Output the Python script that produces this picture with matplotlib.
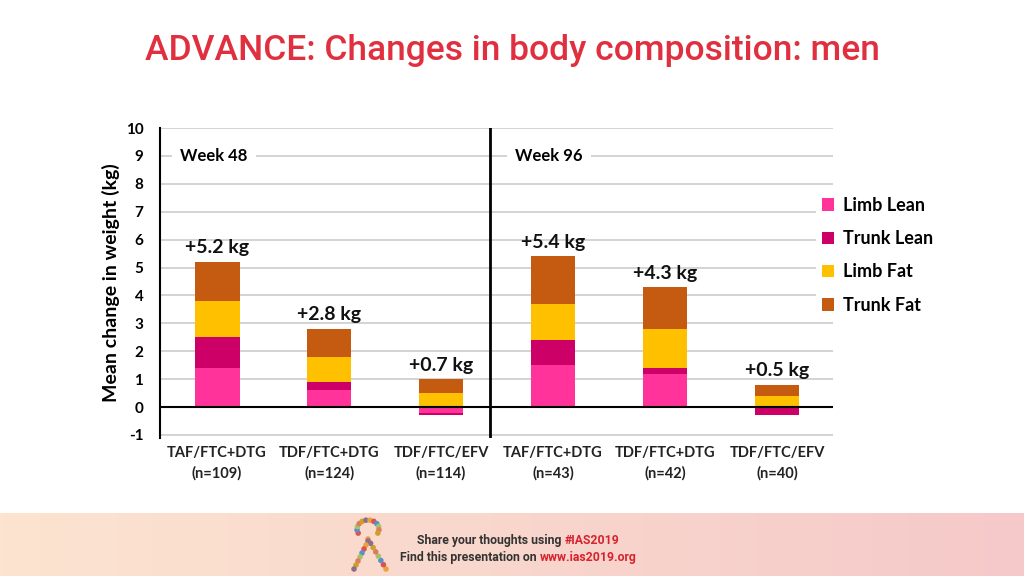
import matplotlib.pyplot as plt
import numpy as np

plt.rcParams["axes.unicode_minus"] = False

# %% data
groups = ["TAF/FTC+DTG\n(n=109)", "TDF/FTC+DTG\n(n=124)", "TDF/FTC/EFV\n(n=114)",
          "TAF/FTC+DTG\n(n=43)", "TDF/FTC+DTG\n(n=42)", "TDF/FTC/EFV\n(n=40)"]
limb_lean = [1.4, 0.6, -0.2, 1.5, 1.2, 0.0]
trunk_lean = [1.1, 0.3, -0.1, 0.9, 0.2, -0.3]
limb_fat = [1.3, 0.9, 0.5, 1.3, 1.4, 0.4]
trunk_fat = [1.4, 1.0, 0.5, 1.7, 1.5, 0.4]
totals = ["+5.2 kg", "+2.8 kg", "+0.7 kg", "+5.4 kg", "+4.3 kg", "+0.5 kg"]
weeks = ["Week 48", "Week 96"]

series = [("Limb Lean", limb_lean, "#FF3399"),
          ("Trunk Lean", trunk_lean, "#CC0066"),
          ("Limb Fat", limb_fat, "#FFC000"),
          ("Trunk Fat", trunk_fat, "#C55A11")]

font = "Lato"
fig = plt.figure(figsize=(10.24, 5.76), dpi=100)

# %% title
fig.text(0.5, 0.912, "ADVANCE: Changes in body composition: men", ha="center", va="center",
         fontsize=25.5, color="#E0303F", family="Roboto", fontweight="medium")

# %% chart
ax = fig.add_axes([0.15625, 0.240, 0.6572, 0.5377])
x = np.arange(len(groups))
pos_base = np.zeros(len(groups))
neg_base = np.zeros(len(groups))
for name, vals, col in series:
    vals = np.array(vals)
    base = np.where(vals >= 0, pos_base, neg_base)
    ax.bar(x, vals, 0.40, bottom=base, color=col, label=name, zorder=2)
    pos_base += np.clip(vals, 0, None)
    neg_base += np.clip(vals, None, 0)

for xi, top, lab in zip(x, pos_base, totals):
    ax.text(xi, top + 0.2, lab, ha="center", va="bottom", fontsize=14,
            fontweight="bold", family=font, color="#111111")

ax.set_xlim(-0.51, 5.5)
ax.set_ylim(-1.1, 10)
ax.set_yticks(range(-1, 11))
ax.grid(axis="y", color="#D0D0D0", lw=1.3, zorder=0)
ax.set_axisbelow(True)
ax.axhline(0, color="black", lw=1.5, zorder=3)
ax.axvline(2.44, color="black", lw=2, zorder=3)
for s in ["top", "right", "bottom"]:
    ax.spines[s].set_visible(False)
ax.spines["left"].set_linewidth(1.5)
ax.tick_params(axis="y", length=0, pad=12, labelsize=11)
ax.tick_params(axis="x", length=0, pad=6, labelsize=10.5)
ax.set_xticks(x)
ax.set_xticklabels(groups, fontweight="bold", family=font, color="#222222", linespacing=1.5)
for t in ax.get_yticklabels():
    t.set_fontweight("bold")
    t.set_family(font)
ax.set_ylabel("Mean change in weight (kg)", fontsize=14, fontweight="bold", family=font, labelpad=4)

for xw, wk in zip([-0.33, 2.66], weeks):
    ax.text(xw, 9, wk, ha="left", va="center", fontsize=12, fontweight="bold", family=font,
            bbox=dict(facecolor="white", edgecolor="none", pad=6), zorder=4)

leg = ax.legend(loc="upper left", bbox_to_anchor=(0.975, 0.795), frameon=True, facecolor="white",
                edgecolor="none", framealpha=1, handlelength=0.7, handleheight=0.7,
                handletextpad=0.5, labelspacing=0.9, borderaxespad=0, borderpad=0.3,
                prop=dict(family=font, weight="bold", size=13))

# %% footer
fax = fig.add_axes([0, 0, 1, 63 / 576])
c1 = np.array([252, 228, 208]) / 255
c2 = np.array([245, 201, 201]) / 255
grad = np.linspace(0, 1, 256)[None, :, None]
fax.imshow(c1 + (c2 - c1) * grad, aspect="auto", extent=[0, 1, 0, 1])
fax.set_xlim(0, 1)
fax.set_ylim(0, 1)
fax.set_axis_off()

# small ribbon logo (pixel coords, y downwards)
seg = np.linspace(0, 1, 8)
ang = np.linspace(np.pi * 1.15, -np.pi * 0.15, 12)
path_x = np.concatenate([386 - 18 * seg, 368 + 11 * np.cos(ang), 368 - 14 * seg])
path_y = np.concatenate([569 - 30 * seg, 529 - 9 * np.sin(ang), 541 + 28 * seg])
ribbon_cols = ["#E8A33D", "#D9534F", "#5B8FC9", "#A5C26B", "#E07A5F", "#C9A227", "#8E6C8A"]
fax.scatter(path_x / 1024, (576 - path_y) / 63, s=16,
            c=[ribbon_cols[i % len(ribbon_cols)] for i in range(len(path_x))],
            edgecolors="none", zorder=3)

fkw = dict(fontsize=8.8, fontweight="bold", family="Roboto", va="center")
rend = fig.canvas.get_renderer()
for yy, txt_a, txt_b in [(0.57, "Share your thoughts using ", "#IAS2019"),
                         (0.30, "Find this presentation on ", "www.ias2019.org")]:
    ta = fax.text(0, yy, txt_a, ha="left", color="#333333", **fkw)
    tb = fax.text(0, yy, txt_b, ha="left", color="#D7232F", **fkw)
    wa = ta.get_window_extent(rend).width
    wb = tb.get_window_extent(rend).width
    x0 = 518 - (wa + wb) / 2
    ta.set_x(x0 / 1024)
    tb.set_x((x0 + wa) / 1024)

fig.savefig("out.png", dpi=100)
